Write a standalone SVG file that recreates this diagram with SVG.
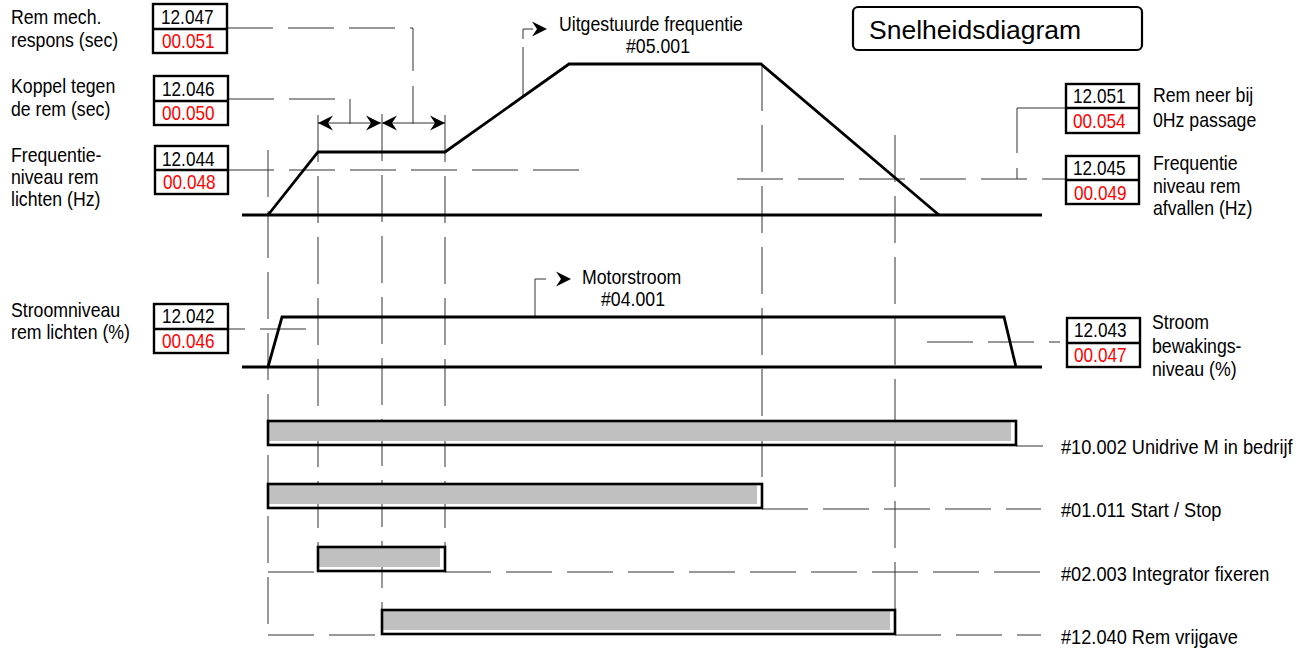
<svg xmlns="http://www.w3.org/2000/svg" width="1308" height="653" viewBox="0 0 1308 653">
<defs>
<style>
.t{font-family:"Liberation Sans",Arial,Helvetica,sans-serif;font-size:20px;fill:#000}
.r{fill:#ff0000}
.ttl{font-family:"Liberation Sans",Arial,Helvetica,sans-serif;font-size:26.5px;fill:#000}
.g{fill:none;stroke:#333;stroke-width:1;stroke-dasharray:47 14}
.h{fill:none;stroke:#333;stroke-width:1;stroke-dasharray:46 15}
.s{fill:none;stroke:#333;stroke-width:1}
.p{fill:none;stroke:#000;stroke-width:2.8;stroke-linejoin:miter}
.box{fill:#fff;stroke:#000;stroke-width:2.4}
.bar{fill:none;stroke:#000;stroke-width:2.6}
.fl{fill:#c0c0c0}
.a{fill:none;stroke:#333;stroke-width:1}
</style>
<marker id="ah" markerUnits="userSpaceOnUse" orient="auto-start-reverse" overflow="visible" refX="0" refY="0" markerWidth="20" markerHeight="20">
<path d="M0,0 L-15,-7.5 L-10,0 L-15,7.5 Z" fill="#000"/>
</marker>
</defs>
<rect x="0" y="0" width="1308" height="653" fill="#fff"/>

<g id="connectors">
<path class="g" d="M268,150 V635"/>
<path class="g" d="M318,115 V546"/>
<path class="g" d="M382,114 V609"/>
<path class="g" d="M445,115 V546"/>
<path class="g" d="M762,64 V483"/>
<path class="g" d="M895,135 V609"/>
<path class="h" d="M227,28 H413 V124"/>
<path class="h" d="M228,99 H350 V124"/>
<path class="h" d="M228,170 H585"/>
<path class="h" d="M737,179 H1066"/>
<path class="s" d="M1066,108 H1017 V153"/>
<path class="s" d="M1017,168 V179"/>
<path class="h" d="M306,329 H228"/>
<path class="h" d="M927,342 H1060"/>
<path class="s" d="M1016,446 H1043"/>
<path class="h" d="M762,509 H1041"/>
<path class="h" d="M268,572 H318"/>
<path class="h" d="M445,572 H1041"/>
<path class="h" d="M268,635 H382"/>
<path class="h" d="M895,635 H1041"/>
<path class="a" d="M318,123 H381" marker-start="url(#ah)" marker-end="url(#ah)"/>
<path class="a" d="M382,123 H445" marker-start="url(#ah)" marker-end="url(#ah)"/>
<path class="s" d="M523,98 V47"/>
<path class="s" d="M523,39 V29 H533"/>
<path d="M534,29 H547" stroke="none" fill="none" marker-end="url(#ah)"/>
<path class="s" d="M535,316 V279 H546"/>
<path d="M558,279 H571" stroke="none" fill="none" marker-end="url(#ah)"/>
</g>

<g id="freq-curve">
<path class="p" d="M242,215 H1042"/>
<path class="p" d="M268,215 L318,152 H445 L569,64 H761 L939,215"/>
</g>
<g id="current-curve">
<path class="p" d="M242,367 H1042"/>
<path class="p" d="M268,367 L282,317 H1004 L1016,367"/>
</g>

<g id="bar-10002">
<rect class="fl" x="269" y="422" width="742" height="19"/>
<rect class="bar" x="268" y="421" width="748" height="24"/>
<text class="t" transform="translate(1061,454) scale(0.91,1)">#10.002 Unidrive M in bedrijf</text>
</g>
<g id="bar-01011">
<rect class="fl" x="269" y="485" width="488" height="19"/>
<rect class="bar" x="268" y="484" width="494" height="24"/>
<text class="t" transform="translate(1061,517) scale(0.91,1)">#01.011 Start / Stop</text>
</g>
<g id="bar-02003">
<rect class="fl" x="319" y="548" width="121" height="19"/>
<rect class="bar" x="318" y="547" width="127" height="24"/>
<text class="t" transform="translate(1061,581) scale(0.91,1)">#02.003 Integrator fixeren</text>
</g>
<g id="bar-12040">
<rect class="fl" x="383" y="611" width="507" height="19"/>
<rect class="bar" x="382" y="610" width="513" height="24"/>
<text class="t" transform="translate(1061,644) scale(0.91,1)">#12.040 Rem vrijgave</text>
</g>

<g id="title">
<rect x="853" y="7" width="289" height="43" rx="5" fill="#fff" stroke="#000" stroke-width="2.2"/>
<text class="ttl" x="869" y="39">Snelheidsdiagram</text>
</g>

<g id="p12047">
<rect class="box" x="153" y="4" width="74" height="49"/>
<path d="M153,29 H227" stroke="#000" stroke-width="2.4"/>
<text class="t" transform="translate(161,24) scale(0.86,1)">12.047</text>
<text class="t r" transform="translate(162,48) scale(0.86,1)">00.051</text>
<text class="t" transform="translate(11,24) scale(0.885,1)">Rem mech.</text>
<text class="t" transform="translate(11,47) scale(0.885,1)">respons (sec)</text>
</g>
<g id="p12046">
<rect class="box" x="154" y="76" width="74" height="49"/>
<path d="M154,101 H228" stroke="#000" stroke-width="2.4"/>
<text class="t" transform="translate(162,96) scale(0.86,1)">12.046</text>
<text class="t r" transform="translate(162,120) scale(0.86,1)">00.050</text>
<text class="t" transform="translate(11,93) scale(0.885,1)">Koppel tegen</text>
<text class="t" transform="translate(11,116) scale(0.885,1)">de rem (sec)</text>
</g>
<g id="p12044">
<rect class="box" x="155" y="146" width="73" height="48"/>
<path d="M155,170 H228" stroke="#000" stroke-width="2.4"/>
<text class="t" transform="translate(162,166) scale(0.86,1)">12.044</text>
<text class="t r" transform="translate(163,189) scale(0.86,1)">00.048</text>
<text class="t" transform="translate(11,162) scale(0.885,1)">Frequentie-</text>
<text class="t" transform="translate(11,184) scale(0.885,1)">niveau rem</text>
<text class="t" transform="translate(11,206) scale(0.885,1)">lichten (Hz)</text>
</g>
<g id="p12042">
<rect class="box" x="154" y="304" width="74" height="49"/>
<path d="M154,329 H228" stroke="#000" stroke-width="2.4"/>
<text class="t" transform="translate(162,323) scale(0.86,1)">12.042</text>
<text class="t r" transform="translate(162,348) scale(0.86,1)">00.046</text>
<text class="t" transform="translate(11,317) scale(0.885,1)">Stroomniveau</text>
<text class="t" transform="translate(11,339) scale(0.885,1)">rem lichten (%)</text>
</g>
<g id="p12051">
<rect class="box" x="1066" y="84" width="73" height="49"/>
<path d="M1066,108 H1139" stroke="#000" stroke-width="2.4"/>
<text class="t" transform="translate(1073,103) scale(0.86,1)">12.051</text>
<text class="t r" transform="translate(1073,128) scale(0.86,1)">00.054</text>
<text class="t" transform="translate(1153,102) scale(0.885,1)">Rem neer bij</text>
<text class="t" transform="translate(1153,127) scale(0.885,1)">0Hz passage</text>
</g>
<g id="p12045">
<rect class="box" x="1066" y="156" width="73" height="48"/>
<path d="M1066,180 H1139" stroke="#000" stroke-width="2.4"/>
<text class="t" transform="translate(1073,175) scale(0.86,1)">12.045</text>
<text class="t r" transform="translate(1074,200) scale(0.86,1)">00.049</text>
<text class="t" transform="translate(1153,170) scale(0.885,1)">Frequentie</text>
<text class="t" transform="translate(1153,193) scale(0.885,1)">niveau rem</text>
<text class="t" transform="translate(1153,215) scale(0.885,1)">afvallen (Hz)</text>
</g>
<g id="p12043">
<rect class="box" x="1067" y="318" width="73" height="49"/>
<path d="M1067,343 H1140" stroke="#000" stroke-width="2.4"/>
<text class="t" transform="translate(1074,337) scale(0.86,1)">12.043</text>
<text class="t r" transform="translate(1074,362) scale(0.86,1)">00.047</text>
<text class="t" transform="translate(1152,329) scale(0.885,1)">Stroom</text>
<text class="t" transform="translate(1152,353) scale(0.885,1)">bewakings-</text>
<text class="t" transform="translate(1152,376) scale(0.885,1)">niveau (%)</text>
</g>
<g id="lbl-freq">
<text class="t" transform="translate(559,31) scale(0.885,1)">Uitgestuurde frequentie</text>
<text class="t" text-anchor="middle" transform="translate(658,53) scale(0.885,1)">#05.001</text>
</g>
<g id="lbl-current">
<text class="t" transform="translate(582,284) scale(0.885,1)">Motorstroom</text>
<text class="t" text-anchor="middle" transform="translate(633,306) scale(0.885,1)">#04.001</text>
</g>
</svg>
